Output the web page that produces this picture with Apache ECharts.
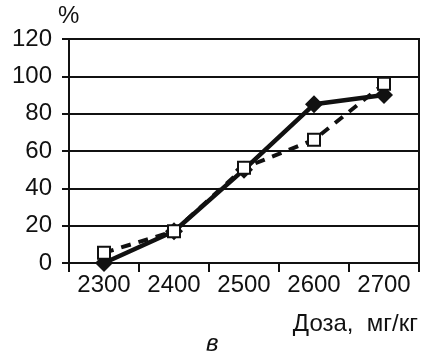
<!DOCTYPE html>
<html>
<head>
<meta charset="utf-8">
<script src="https://cdn.jsdelivr.net/npm/echarts@6/dist/echarts.min.js"></script>
<style>
  html, body { margin: 0; padding: 0; background: #fff; }
  #main { width: 425px; height: 354px; }
</style>
</head>
<body>
<div id="main"></div>
<script>
var doses = ['2300', '2400', '2500', '2600', '2700'];
var solidVals = [0, 17, 50, 85, 90];
var dashedVals = [5.5, 17, 51, 66, 96];
var yTicks = [0, 20, 40, 60, 80, 100, 120];

var font = 'Liberation Sans, Arial, sans-serif';
var chart = echarts.init(document.getElementById('main'));
chart.setOption({
    animation: false,
    grid: {
        left: 69, right: 6, top: 39, bottom: 91,
        show: true, borderColor: '#111', borderWidth: 2
    },
    xAxis: {
        type: 'category',
        data: doses,
        boundaryGap: true,
        axisLine: { lineStyle: { color: '#111', width: 2 } },
        axisTick: { show: true, length: 9, lineStyle: { color: '#111', width: 2 } },
        axisLabel: { color: '#111', fontSize: 24, fontFamily: font, margin: 10 },
        splitLine: { show: false }
    },
    yAxis: {
        type: 'value',
        min: yTicks[0],
        max: yTicks[yTicks.length - 1],
        interval: 20,
        axisLine: { show: true, lineStyle: { color: '#111', width: 2 } },
        axisTick: { show: true, length: 7, lineStyle: { color: '#111', width: 2 } },
        axisLabel: { color: '#111', fontSize: 24, fontFamily: font, margin: 17 },
        splitLine: { show: true, lineStyle: { color: '#111', width: 2 } }
    },
    series: [{
        name: 'solid',
        type: 'line',
        data: solidVals,
        symbol: 'diamond',
        symbolSize: 18,
        itemStyle: { color: '#111' },
        lineStyle: { color: '#111', width: 4.5 },
        z: 3
    }, {
        name: 'dashed',
        type: 'line',
        data: dashedVals,
        symbol: 'rect',
        symbolSize: 12,
        itemStyle: { color: '#fff', borderColor: '#111', borderWidth: 2 },
        lineStyle: { color: '#111', width: 4, type: [10, 8] },
        z: 4
    }],
    graphic: [
        { type: 'text', left: 58, top: 4, style: { text: '%', fontSize: 24, fontFamily: font, fill: '#111' } },
        { type: 'text', right: 7, top: 312, style: { text: 'Доза,  мг/кг', fontSize: 24, fontFamily: font, fill: '#111' } },
        { type: 'text', left: 206, top: 332, style: { text: 'в', fontSize: 24, fontStyle: 'italic', fontFamily: font, fill: '#111' } },
        { type: 'text', left: 208, top: -19, style: { text: 'б', fontSize: 24, fontStyle: 'italic', fontFamily: font, fill: '#111' } }
    ]
});
</script>
</body>
</html>
